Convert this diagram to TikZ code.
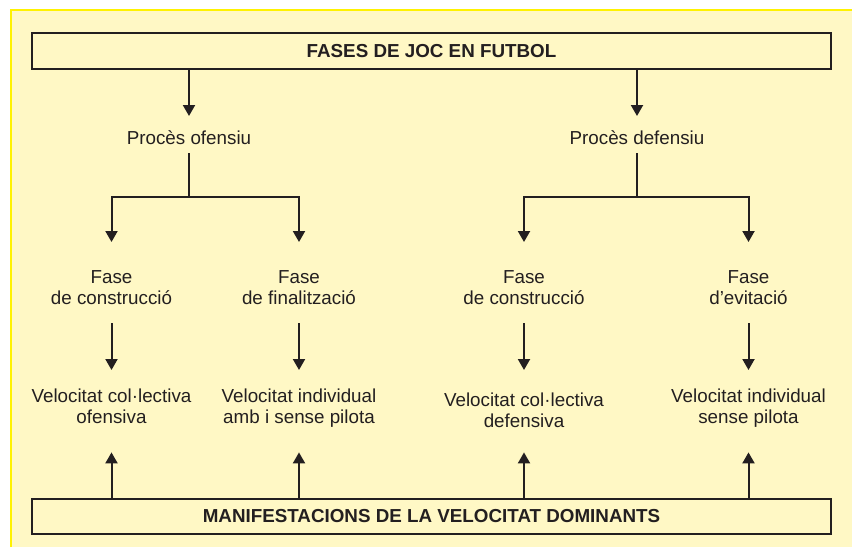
\documentclass[tikz,border=0pt]{standalone}
\usepackage{fontspec}
\setmainfont{Liberation Sans}
\usetikzlibrary{arrows.meta}
\definecolor{bgfill}{RGB}{255,248,197}
\definecolor{frameyel}{RGB}{255,242,0}
\definecolor{ink}{RGB}{35,31,32}
\begin{document}
\begin{tikzpicture}[x=1pt,y=1pt,
  lbl/.style={inner sep=0pt, align=center, anchor=north, text=ink,
    font=\fontsize{18.8pt}{21pt}\selectfont},
  bigbox/.style={draw=ink, line width=1.8pt, fill=bgfill, minimum width=799pt,
    inner sep=0pt, text=ink, font=\fontsize{18.8pt}{21pt}\selectfont\bfseries},
  arr/.style={draw=ink, line width=2pt, -{Triangle[length=11pt,width=12pt]}},
  plainline/.style={draw=ink, line width=2pt}]
\useasboundingbox (0,0) rectangle (852,-547);
\fill[bgfill] (11,-10) rectangle (852,-547);
\draw[frameyel, line width=1.6pt] (11,-547) -- (11,-10) -- (852,-10);

\node[bigbox, minimum height=36pt] (top) at (431.5,-51) {FASES DE JOC EN FUTBOL};
\node[bigbox, minimum height=35pt] (bot) at (431.5,-516.5) {MANIFESTACIONS DE LA VELOCITAT DOMINANTS};

\node[lbl] (po) at (189,-130) {\strut Procès ofensiu};
\node[lbl] (pd) at (637,-130) {\strut Procès defensiu};

\node[lbl] (f1) at (111.5,-269) {\strut Fase\\\strut de construcció};
\node[lbl] (f2) at (299,-269) {\strut Fase\\\strut de finalització};
\node[lbl] (f3) at (524,-269) {\strut Fase\\\strut de construcció};
\node[lbl] (f4) at (748.5,-269) {\strut Fase\\\strut d’evitació};

\node[lbl] (v1) at (111.5,-388) {\strut Velocitat col·lectiva\\\strut ofensiva};
\node[lbl] (v2) at (299,-388) {\strut Velocitat individual\\\strut amb i sense pilota};
\node[lbl] (v3) at (524,-392) {\strut Velocitat col·lectiva\\\strut defensiva};
\node[lbl] (v4) at (748.5,-388) {\strut Velocitat individual\\\strut sense pilota};

\draw[arr] (top.south -| po.north) -- ([yshift=14pt]po.north);
\draw[arr] (top.south -| pd.north) -- ([yshift=14pt]pd.north);

\draw[plainline] ([yshift=-2pt]po.south) -- ++(0,-44pt) coordinate (jo);
\draw[arr] (jo) -| ([yshift=27pt]f1.north);
\draw[arr] (jo) -| ([yshift=27pt]f2.north);
\draw[plainline] ([yshift=-2pt]pd.south) -- ++(0,-44pt) coordinate (jd);
\draw[arr] (jd) -| ([yshift=27pt]f3.north);
\draw[arr] (jd) -| ([yshift=27pt]f4.north);

\draw[arr] ([yshift=-12pt]f1.south) -- ([yshift=18pt]v1.north);
\draw[arr] ([yshift=-12pt]f2.south) -- ([yshift=18pt]v2.north);
\draw[arr] ([yshift=-12pt]f3.south) -- ([yshift=22pt]v3.north);
\draw[arr] ([yshift=-12pt]f4.south) -- ([yshift=18pt]v4.north);

\draw[arr] (bot.north -| v1.south) -- ([yshift=-22pt]v1.south);
\draw[arr] (bot.north -| v2.south) -- ([yshift=-22pt]v2.south);
\draw[arr] (bot.north -| v3.south) -- ([yshift=-18pt]v3.south);
\draw[arr] (bot.north -| v4.south) -- ([yshift=-22pt]v4.south);
\end{tikzpicture}
\end{document}
